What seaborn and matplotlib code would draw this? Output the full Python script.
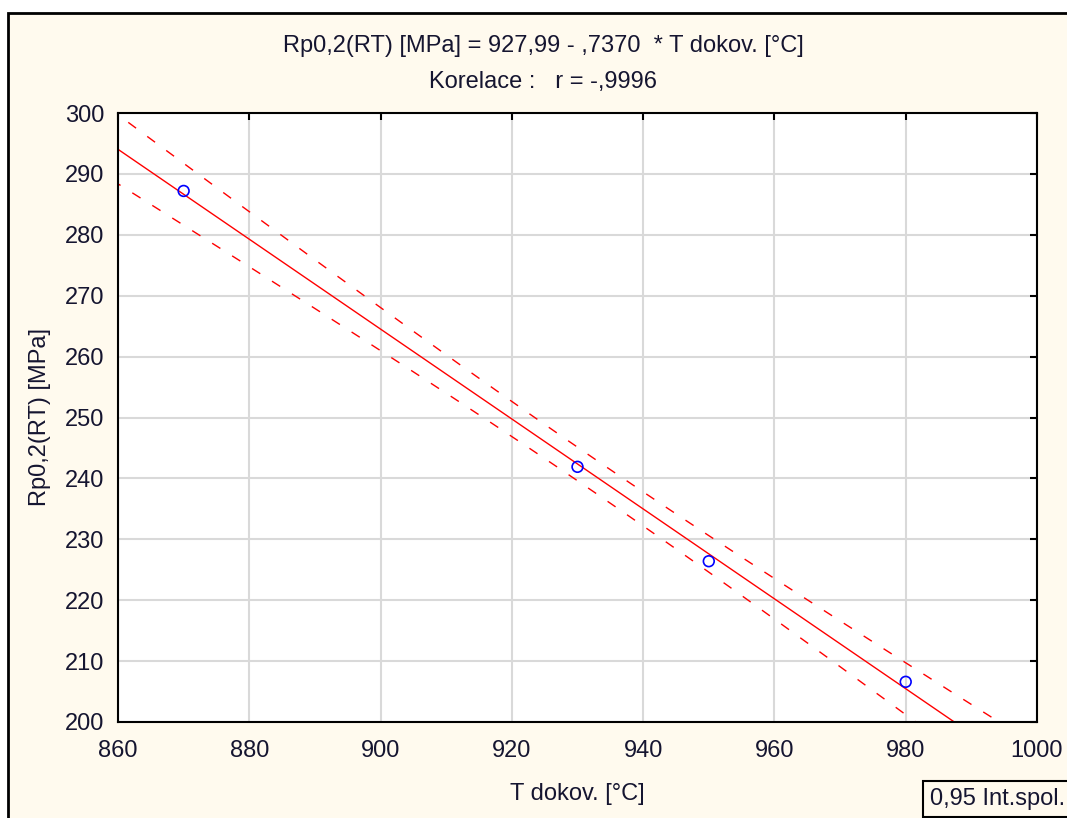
import numpy as np
import pandas as pd
import matplotlib
matplotlib.use('Agg')
import matplotlib.pyplot as plt
import seaborn as sns
from matplotlib.patches import Rectangle

# data
t_dokov = [870, 930, 950, 980]
rp02 = [287.2, 241.9, 226.4, 206.6]
x_ticks = [860, 880, 900, 920, 940, 960, 980, 1000]
y_ticks = [200, 210, 220, 230, 240, 250, 260, 270, 280, 290, 300]
t_crit = 4.303  # t(0.975, df=2)

title1 = 'Rp0,2(RT) [MPa] = 927,99 - ,7370  * T dokov. [°C]'
title2 = 'Korelace :   r = -,9996'

df = pd.DataFrame({'T': t_dokov, 'Rp': rp02})

# regression + 95% confidence band of the mean
x = df['T'].values
y = df['Rp'].values
slope, intercept = np.polyfit(x, y, 1)
resid = y - (intercept + slope * x)
s = np.sqrt((resid ** 2).sum() / (len(x) - 2))
sxx = ((x - x.mean()) ** 2).sum()
grid = np.linspace(850, 1010, 200)
fit = intercept + slope * grid
half = t_crit * s * np.sqrt(1 / len(x) + (grid - x.mean()) ** 2 / sxx)
band = pd.DataFrame({'T': grid, 'fit': fit, 'lo': fit - half, 'hi': fit + half})

sns.set_style('white')
plt.rcParams['font.family'] = ['Liberation Sans', 'DejaVu Sans']
txt_col = '#151530'
fs = 17

fig = plt.figure(figsize=(10.67, 8.18), dpi=100, facecolor='white')
fig.patches.append(Rectangle((8 / 1067, -0.01), 1.1, 1 - 13 / 818 + 0.01,
                             transform=fig.transFigure, facecolor='#fffaee',
                             edgecolor='black', linewidth=2, zorder=-10))
ax = fig.add_axes([118 / 1067, 1 - 722 / 818, (1037 - 118) / 1067, (722 - 113) / 818])
ax.set_facecolor('white')

sns.lineplot(data=band, x='T', y='fit', color='red', linewidth=1, ax=ax)
sns.lineplot(data=band, x='T', y='lo', color='red', linewidth=1, ax=ax)
sns.lineplot(data=band, x='T', y='hi', color='red', linewidth=1, ax=ax)
for ln in ax.lines[1:]:
    ln.set_dashes([7, 10])
sns.scatterplot(data=df, x='T', y='Rp', marker='o', s=60, facecolor='none',
                edgecolor='blue', linewidth=1.2, ax=ax, zorder=5)

ax.set_xlim(860, 1000)
ax.set_ylim(200, 300)
ax.set_xticks(x_ticks)
ax.set_yticks(y_ticks)
ax.grid(True, color='#d9d9d9', linewidth=1.5)
ax.set_axisbelow(True)
for sp in ax.spines.values():
    sp.set_color('black')
    sp.set_linewidth(1.5)
ax.tick_params(direction='in', length=5, width=1.5, top=True, right=True,
               labelsize=fs, colors='black', labelcolor=txt_col)
ax.tick_params(axis='x', pad=13)
ax.tick_params(axis='y', pad=10)
ax.set_xlabel('T dokov. [°C]', fontsize=fs, color=txt_col, labelpad=15)
ax.set_ylabel('Rp0,2(RT) [MPa]', fontsize=fs, color=txt_col, labelpad=10)

fig.text(543 / 1067, 1 - 46 / 818, title1, ha='center', va='center', fontsize=fs, color=txt_col)
fig.text(543 / 1067, 1 - 82 / 818, title2, ha='center', va='center', fontsize=fs, color=txt_col)
fig.text(930 / 1067, 1 - 799 / 818, '0,95 Int.spol.', ha='left', va='center', fontsize=fs,
         color=txt_col,
         bbox=dict(boxstyle='square,pad=0.3', facecolor='#fffaee', edgecolor='black', linewidth=1.5))

fig.savefig('out.png', dpi=100, facecolor=fig.get_facecolor())
